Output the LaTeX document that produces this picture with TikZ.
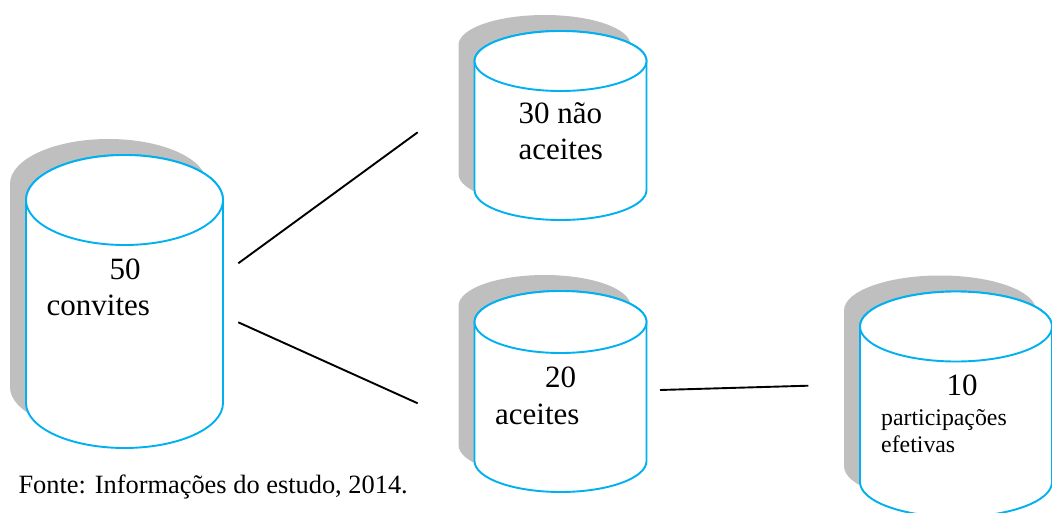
\documentclass[tikz,border=0pt]{standalone}
\usepackage{fontspec}
\setmainfont{Liberation Serif}
\definecolor{cylblue}{HTML}{00B0F0}
\definecolor{shadowgray}{HTML}{BFBFBF}
\tikzset{
  cylline/.style={draw=cylblue, line width=1.9pt, fill=white},
  conn/.style={draw=black, line width=1.9pt},
  bigtxt/.style={inner sep=0pt, font=\fontsize{31}{36}\selectfont},
  smalltxt/.style={inner sep=0pt, font=\fontsize{23.8}{28}\selectfont},
  srctxt/.style={inner sep=0pt, font=\fontsize{26.4}{30}\selectfont},
}
% #1 cx, #2 y of top ellipse centre, #3 y of bottom ellipse centre, #4 rx, #5 ry
\newcommand\mycyl[5]{%
  \fill[shadowgray] ({#1-#4-16},{#2-16}) -- ({#1-#4-16},{#3-16})
     arc[start angle=180, end angle=360, x radius=#4pt, y radius=#5pt]
     -- ({#1+#4-16},{#2-16})
     arc[start angle=0, end angle=180, x radius=#4pt, y radius=#5pt] -- cycle;
  \path[cylline] ({#1-#4},{#2}) -- ({#1-#4},{#3})
     arc[start angle=180, end angle=360, x radius=#4pt, y radius=#5pt]
     -- ({#1+#4},{#2})
     arc[start angle=0, end angle=180, x radius=#4pt, y radius=#5pt] -- cycle;
  \draw[cylline] (#1,#2) ellipse[x radius=#4pt, y radius=#5pt];
}
\begin{document}
\begin{tikzpicture}[x=1pt, y=-1pt]
\useasboundingbox (0,0) rectangle (1052,513);
\fill[white] (0,0) rectangle (1052,513);

% cylinders
\mycyl{124.5}{200}{403}{98.5}{45}
\mycyl{560.5}{61}{190}{86}{30}
\mycyl{560.5}{322}{461}{86}{31}
\mycyl{956}{326.5}{482}{96}{35}

% texts
\node[bigtxt, anchor=base] (t50) at (125,279) {50};
\node[bigtxt, anchor=base west] (tconv) at (46.5,315) {convites};

\node[bigtxt, anchor=base west] (t30) at (518.3,123.3) {30 não};
\node[bigtxt, anchor=base west] (tnac) at (518.3,159.3) {aceites};

\node[bigtxt, anchor=base] (t20) at (560.5,387.3) {20};
\node[bigtxt, anchor=base west] (tac) at (495,424) {aceites};

\node[bigtxt, anchor=base] (t10) at (962,395) {10};
\node[smalltxt, anchor=base west] (tpart) at (881,425) {participações};
\node[smalltxt, anchor=base west] (tefe) at (881,452.7) {efetivas};

\node[srctxt, anchor=base west] (src) at (18.3,493.3) {Fonte: Informações do estudo, 2014.};

% connectors
\coordinate (c50a) at (238.3,263.3);
\coordinate (c50b) at (238.3,322.3);
\coordinate (c30) at (417.7,132.3);
\coordinate (c20) at (417.7,403.3);
\coordinate (c20r) at (660,390);
\coordinate (c10) at (808.3,385.7);
\draw[conn] (c50a) -- (c30);
\draw[conn] (c50b) -- (c20);
\draw[conn] (c20r) -- (c10);
\end{tikzpicture}
\end{document}
